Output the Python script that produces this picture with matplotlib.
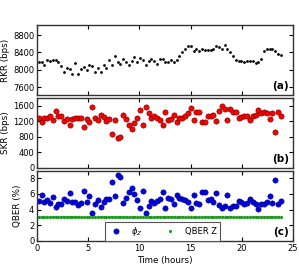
import matplotlib
matplotlib.use("Agg")
import matplotlib.pyplot as plt

# -----------------------------
# Data
# -----------------------------
time_h = [0.16, 0.44, 0.71, 0.99, 1.26, 1.54, 1.81, 2.09, 2.36, 2.64,
          2.91, 3.19, 3.46, 3.74, 4.01, 4.29, 4.56, 4.84, 5.11, 5.39,
          5.66, 5.94, 6.21, 6.49, 6.76, 7.04, 7.31, 7.59, 7.86, 8.14,
          8.41, 8.69, 8.96, 9.24, 9.51, 9.79, 10.06, 10.34, 10.61, 10.89,
          11.16, 11.44, 11.71, 11.99, 12.26, 12.54, 12.81, 13.09, 13.36, 13.64,
          13.91, 14.19, 14.46, 14.74, 15.01, 15.29, 15.56, 15.84, 16.11, 16.39,
          16.66, 16.94, 17.21, 17.49, 17.76, 18.04, 18.31, 18.59, 18.86, 19.14,
          19.41, 19.69, 19.96, 20.24, 20.51, 20.79, 21.06, 21.34, 21.61, 21.89,
          22.16, 22.44, 22.71, 22.99, 23.26, 23.54, 23.81]

rkr = [8190, 8170, 8120, 8230, 8200, 8230, 8230, 8170, 8090, 7960,
       8050, 8010, 7910, 8150, 7910, 8020, 8060, 7990, 8120, 8080,
       7950, 8040, 7950, 8120, 8040, 8220, 8120, 8310, 8170, 8130,
       8260, 8190, 8110, 8200, 8300, 8180, 8280, 8230, 8120, 8200,
       8260, 8200, 8130, 8240, 8240, 8170, 8170, 8230, 8170, 8220,
       8310, 8410, 8490, 8540, 8550, 8430, 8480, 8430, 8470, 8460,
       8450, 8460, 8470, 8560, 8520, 8490, 8580, 8490, 8400, 8320,
       8230, 8200, 8200, 8170, 8210, 8200, 8200, 8160, 8190, 8240,
       8440, 8480, 8480, 8480, 8430, 8370, 8340]

skr = [1285, 1175, 1295, 1280, 1345, 1235, 1460, 1345, 1330, 1200,
       1270, 1100, 1250, 1300, 1300, 1300, 1050, 1270, 1175, 1565,
       1295, 1245, 1360, 1310, 1200, 1260, 885, 1235, 780, 810,
       1370, 1260, 1100, 1015, 1170, 1280, 1495, 1100, 1575, 1415,
       1300, 1345, 1280, 1245, 1110, 1450, 1230, 1255, 1360, 1175,
       1285, 1300, 1345, 1415, 1550, 1235, 1430, 1440, 1175, 1185,
       1350, 1345, 1370, 1220, 1470, 1590, 1530, 1235, 1530, 1450,
       1430, 1300, 1315, 1350, 1345, 1245, 1330, 1370, 1500, 1405,
       1450, 1420, 1270, 1420, 915, 1450, 1345]

qber_phi = [5.15, 5.84, 4.98, 5.24, 4.81, 5.54, 4.33, 4.72, 4.76, 5.32,
            5.11, 6.10, 4.94, 5.02, 4.63, 4.81, 6.40, 5.02, 5.71, 3.55,
            4.76, 5.24, 4.37, 4.98, 5.37, 5.37, 7.53, 5.71, 8.35, 8.20,
            4.81, 5.41, 6.19, 6.80, 6.00, 5.19, 4.24, 6.40, 3.55, 4.50,
            5.15, 4.81, 5.15, 5.32, 6.23, 4.20, 5.45, 5.37, 4.72, 5.84,
            5.45, 5.32, 5.24, 4.94, 4.24, 5.84, 4.85, 4.72, 6.23, 6.19,
            5.19, 5.32, 4.98, 6.06, 4.63, 4.16, 4.42, 5.89, 4.20, 4.42,
            4.46, 5.07, 4.94, 4.72, 4.85, 5.32, 4.94, 4.68, 4.07, 4.68,
            4.76, 4.94, 5.67, 4.85, 7.75, 4.68, 5.11]

qber_z = [3.05, 3.05, 3.06, 3.05, 3.05, 3.04, 3.05, 3.06, 3.05, 3.05,
          3.05, 3.04, 3.05, 3.05, 3.06, 3.05, 3.05, 3.05, 3.04, 3.05,
          3.05, 3.05, 3.06, 3.05, 3.05, 3.04, 3.05, 3.05, 3.05, 3.05,
          3.02, 3.03, 3.04, 3.05, 3.05, 3.05, 3.06, 3.05, 3.05, 3.05,
          3.05, 3.05, 3.04, 3.05, 3.05, 3.06, 3.05, 3.05, 3.05, 3.04,
          3.05, 3.05, 3.05, 3.06, 3.05, 3.05, 3.05, 3.04, 3.05, 3.05,
          3.05, 3.06, 3.05, 3.05, 3.04, 3.05, 3.05, 3.05, 3.05, 3.06,
          3.05, 3.05, 3.05, 3.04, 3.05, 3.05, 3.05, 3.05, 3.03, 3.02,
          3.02, 3.03, 3.02, 3.03, 3.04, 3.05, 3.05]

# -----------------------------
# Figure
# -----------------------------
plt.rcParams["font.size"] = 6
plt.rcParams["xtick.direction"] = "in"
plt.rcParams["ytick.direction"] = "in"
plt.rcParams["xtick.top"] = True
plt.rcParams["ytick.right"] = True
plt.rcParams["xtick.major.size"] = 3
plt.rcParams["ytick.major.size"] = 3
plt.rcParams["axes.linewidth"] = 1.0

fig, axes = plt.subplots(3, 1, figsize=(2.99, 2.76), dpi=100, sharex=True)
fig.subplots_adjust(left=0.124, right=0.980, top=0.909, bottom=0.127, hspace=0.045)
ax_a, ax_b, ax_c = axes

# (a) raw key rate
ax_a.plot(time_h, rkr, "o", color="black", markersize=2.0, markeredgewidth=0)
ax_a.set_ylim(7420, 9030)
ax_a.set_yticks([7600, 8000, 8400, 8800])
ax_a.set_ylabel("RKR (bps)", fontsize=6.3, labelpad=2)

# (b) secret key rate
ax_b.plot(time_h, skr, "o", color="red", markersize=3.8,
          markeredgecolor="#600000", markeredgewidth=0.4)
ax_b.set_ylim(0, 1800)
ax_b.set_yticks([0, 400, 800, 1200, 1600])
ax_b.set_ylabel("SKR (bps)", fontsize=6.3, labelpad=2)

# (c) QBER
ax_c.plot(time_h, qber_z, color="#1a9a1a", linewidth=1.6,
          linestyle=(0, (0.6, 0.6)))
ax_c.plot(time_h, qber_phi, "o", color="#0000ee", markersize=3.8,
          markeredgecolor="#000060", markeredgewidth=0.4, label=r"$\phi_Z$")
ax_c.plot(time_h, qber_z, ".", color="#1a9a1a", markersize=2.5, label="QBER Z")
ax_c.set_ylim(0, 8.9)
ax_c.set_yticks([0, 2, 4, 6, 8])
ax_c.set_ylabel("QBER (%)", fontsize=6.3, labelpad=5)
ax_c.set_xlim(0, 25)
ax_c.set_xticks([0, 5, 10, 15, 20, 25])
ax_c.set_xlabel("Time (hours)", fontsize=6.3, labelpad=2)
leg = ax_c.legend(loc="lower center", ncol=2, numpoints=1, fontsize=6,
                  bbox_to_anchor=(0.49, 0.0), borderaxespad=0.0,
                  fancybox=False, framealpha=1, columnspacing=2.2,
                  handletextpad=0.8, borderpad=0.35)
leg.get_frame().set_edgecolor("#555555")
leg.get_frame().set_linewidth(0.8)

for ax, tag in zip(axes, ["(a)", "(b)", "(c)"]):
    ax.text(0.985, 0.05, tag, transform=ax.transAxes, ha="right", va="bottom",
            fontsize=7.5, fontweight="bold")
    ax.tick_params(labelsize=6, pad=2)
    for spine in ax.spines.values():
        spine.set_color("#333333")

fig.savefig("out.png", dpi=100)
